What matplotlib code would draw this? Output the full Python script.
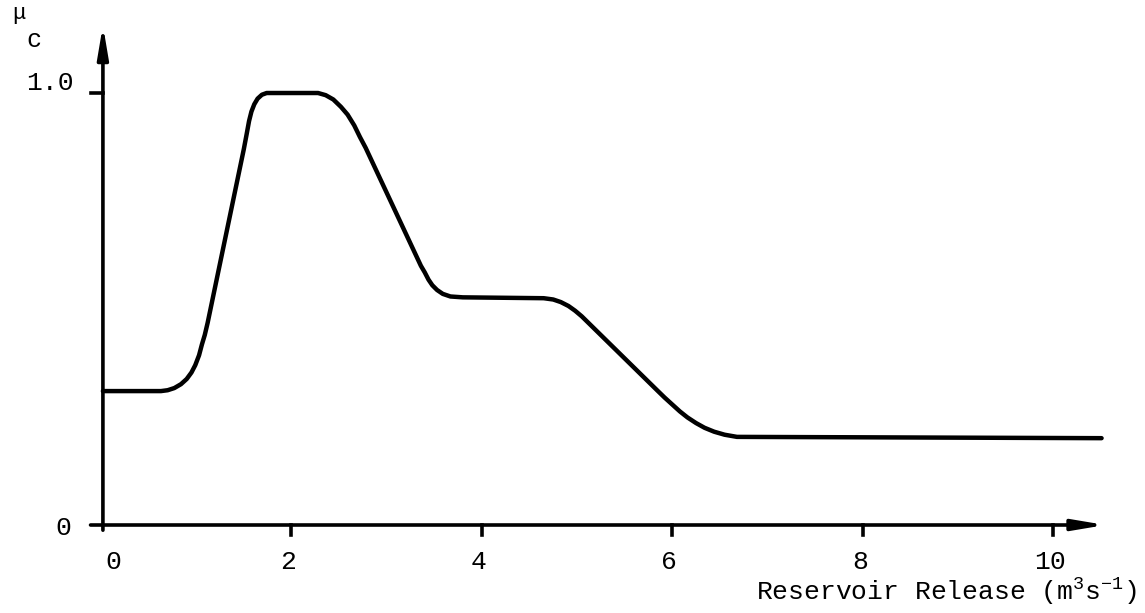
import numpy as np
import matplotlib
matplotlib.use("Agg")
import matplotlib.pyplot as plt

plt.rcParams['font.family'] = ['Liberation Mono', 'DejaVu Sans Mono']
plt.rcParams['mathtext.fontset'] = 'custom'
plt.rcParams['mathtext.rm'] = 'Liberation Mono'
plt.rcParams['mathtext.it'] = 'Liberation Mono'

# membership curve
release = [0.02, 0.30, 0.63, 0.70, 0.77, 0.84, 0.90, 0.95, 0.99, 1.03,
           1.06, 1.09, 1.12, 1.50, 1.53, 1.555, 1.58, 1.61, 1.645, 1.69,
           1.74, 2.28, 2.36, 2.44, 2.52, 2.59, 2.66, 2.72, 2.78, 3.36,
           3.40, 3.44, 3.48, 3.53, 3.59, 3.67, 3.80, 4.65, 4.75, 4.83,
           4.91, 4.98, 5.05, 5.85, 5.92, 6.00, 6.08, 6.16, 6.25, 6.34,
           6.44, 6.55, 6.68, 8.00, 10.51]
mu_c = [0.31, 0.31, 0.31, 0.312, 0.317, 0.326, 0.338, 0.353, 0.37, 0.393,
        0.418, 0.44, 0.468, 0.87, 0.905, 0.935, 0.957, 0.974, 0.987, 0.996,
        1.0, 1.0, 0.995, 0.985, 0.968, 0.95, 0.925, 0.898, 0.873, 0.60,
        0.585, 0.568, 0.555, 0.544, 0.535, 0.529, 0.527, 0.525, 0.522, 0.516,
        0.507, 0.496, 0.483, 0.31, 0.295, 0.279, 0.263, 0.249, 0.236, 0.225,
        0.216, 0.209, 0.204, 0.203, 0.201]

xticks = [0, 2, 4, 6, 8, 10]
xtick_labels = ['0', '2', '4', '6', '8', '10']
yticks = [0, 1.0]
ytick_labels = ['0', '1.0']

FS = 19

fig = plt.figure(figsize=(11.45, 6.13), dpi=100)
ax = fig.add_axes([0, 0, 1, 1])
ax.set_xlim(-1.061, 10.966)
ax.set_ylim(-0.2037, 1.2153)
ax.axis('off')

ax.plot(release, mu_c, color='black', lw=3.2, solid_capstyle='round',
        solid_joinstyle='round')

# axes with arrow heads
arrow = dict(arrowstyle='-|>,head_length=1.9,head_width=0.32', lw=2.6,
             color='black', shrinkA=0, shrinkB=0)
ax.annotate('', xy=(0.02, 1.157), xytext=(0.02, -0.012), arrowprops=arrow)
ax.annotate('', xy=(10.55, 0), xytext=(-0.11, 0), arrowprops=arrow)

# ticks
for t in xticks[1:]:
    ax.plot([t, t], [0, -0.024], color='black', lw=2.6)
ax.plot([-0.11, 0.02], [1.0, 1.0], color='black', lw=2.6)

# tick labels
for t, lab in zip(xticks, xtick_labels):
    dx = 0.13 if t == 0 else -0.03
    ax.text(t + dx, -0.086, lab, ha='center', va='center', fontsize=FS)
ax.text(-0.40, yticks[0] - 0.007, ytick_labels[0], ha='center', va='center', fontsize=FS)
ax.text(-0.536, yticks[1] + 0.023, ytick_labels[1], ha='center', va='center', fontsize=FS)

# axis labels
ax.text(-0.86, 1.183, '\u03bc', ha='center', va='center', fontsize=16)
ax.text(-0.70, 1.122, 'c', ha='center', va='center', fontsize=18)
ax.text(10.88, -0.174, r'Reservoir Release (m$^3$s$^{-1}$)', ha='right',
        va='baseline', fontsize=FS)

fig.savefig('out.png', dpi=100)
